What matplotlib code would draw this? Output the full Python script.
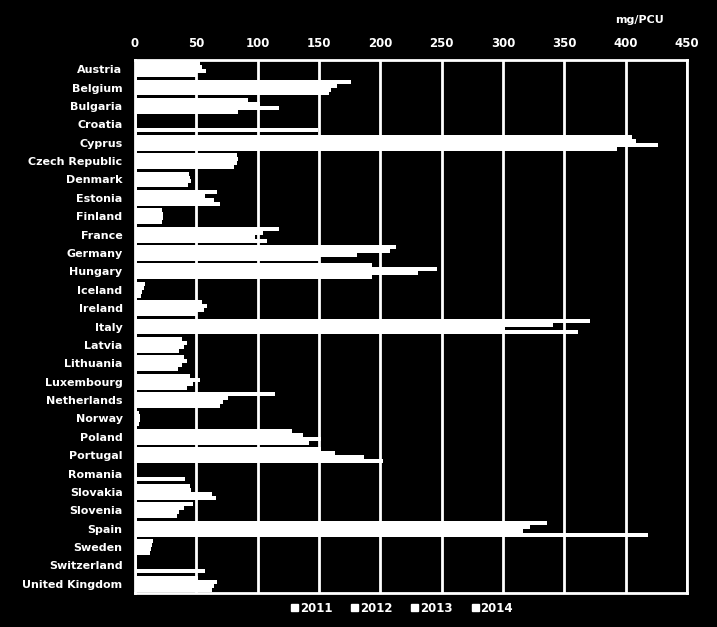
import matplotlib
matplotlib.use("Agg")
from matplotlib import pyplot as plt
import matplotlib.patches as mpatches
import numpy as np

countries = ["Austria", "Belgium", "Bulgaria", "Croatia", "Cyprus", "Czech Republic",
             "Denmark", "Estonia", "Finland", "France", "Germany", "Hungary", "Iceland",
             "Ireland", "Italy", "Latvia", "Lithuania", "Luxembourg", "Netherlands",
             "Norway", "Poland", "Portugal", "Romania", "Slovakia", "Slovenia", "Spain",
             "Sweden", "Switzerland", "United Kingdom"]

years = ["2011", "2012", "2013", "2014"]

# mg/PCU (0 = no bar shown)
v2011 = [53, 176, 92, 0, 405, 83, 44, 67, 22, 117, 213, 193, 8, 55, 371, 38, 40, 45,
         114, 3, 128, 152, 0, 45, 47, 336, 15, 0, 51]
v2012 = [55, 165, 102, 0, 408, 84, 45, 57, 23, 104, 208, 246, 7, 59, 341, 42, 42, 53,
         76, 4, 137, 163, 0, 46, 40, 322, 14, 0, 67]
v2013 = [58, 160, 117, 0, 426, 83, 46, 64, 23, 98, 181, 231, 6, 56, 302, 40, 38, 47,
         72, 4, 152, 187, 0, 63, 36, 316, 13, 0, 64]
v2014 = [50, 158, 84, 149, 393, 81, 43, 69, 22, 108, 150, 193, 5, 50, 361, 36, 35, 42,
         69, 3, 142, 202, 41, 66, 34, 418, 12, 57, 63]

series = [v2011, v2012, v2013, v2014]

fig = plt.figure(figsize=(7.17, 6.27), dpi=100, facecolor="black")
ax = fig.add_axes([0.1883, 0.0542, 0.7699, 0.8501], facecolor="black")

y = np.arange(len(countries))
h = 0.215
for i, vals in enumerate(series):
    offs = (i - 1.5) * h
    ax.barh(y + offs, vals, height=h, color="white", edgecolor="none", zorder=3)

ax.set_ylim(len(countries) - 0.5, -0.5)
ax.set_xlim(0, 450)
ax.set_xticks(np.arange(0, 451, 50))
ax.xaxis.tick_top()
ax.tick_params(axis="x", length=0, pad=7, colors="white", labelsize=8.5)
ax.tick_params(axis="y", length=0, pad=9, colors="white", labelsize=8)
ax.set_yticks(y)
ax.set_yticklabels(countries)
for lab in ax.get_xticklabels() + ax.get_yticklabels():
    lab.set_fontweight("bold")

ax.grid(axis="x", color="white", linewidth=2, zorder=1)
for s in ax.spines.values():
    s.set_color("white")
    s.set_linewidth(2)

fig.text(640 / 717, 1 - 20 / 627, "mg/PCU", color="white", fontsize=8,
         fontweight="bold", ha="center", va="center")

handles = [mpatches.Patch(color="white", label=yr) for yr in years]
leg = fig.legend(handles=handles, loc="center", bbox_to_anchor=(402 / 717, 1 - 608 / 627),
                 ncol=4, frameon=False, handlelength=0.6, handleheight=0.6,
                 handletextpad=0.15, columnspacing=1.6, prop={"size": 8.5, "weight": "bold"})
for t in leg.get_texts():
    t.set_color("white")

fig.savefig("out.png", dpi=100, facecolor="black")
